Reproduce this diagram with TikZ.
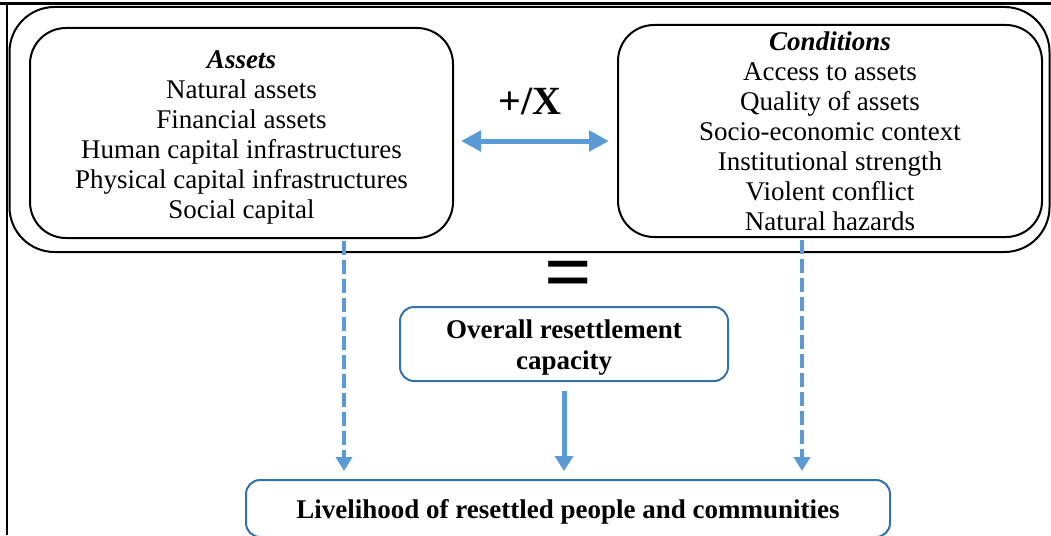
\documentclass[tikz,border=0pt]{standalone}
\usepackage{fontspec}
\setmainfont{Liberation Serif}
\usetikzlibrary{arrows.meta,calc}
\definecolor{arrblue}{RGB}{91,155,213}
\definecolor{boxblue}{RGB}{52,113,170}
\begin{document}
\begin{tikzpicture}[x=1pt,y=-1pt,
  txt/.style={font=\fontsize{27}{30}\selectfont, align=center},
  boldtxt/.style={font=\bfseries\fontsize{27}{31}\selectfont, align=center},
  blackbox/.style={draw=black, line width=2pt, rounded corners=36pt, inner sep=0pt},
  bluebox/.style={draw=boxblue, line width=2pt, rounded corners=14pt, inner sep=0pt},
  dasharrow/.style={draw=arrblue, line width=4.5pt, dash pattern=on 14pt off 5pt,
    -{Triangle[length=14pt,width=16pt]}},
  solidarrow/.style={draw=arrblue, line width=5pt, -{Triangle[length=15pt,width=18pt]}},
  dblarrow/.style={draw=arrblue, line width=5pt,
    {Triangle[length=20pt,width=20pt]}-{Triangle[length=20pt,width=20pt]}},
  frame/.style={draw=black}]
\useasboundingbox (0,0) rectangle (1051,535);
\clip (0,0) rectangle (1051,535);
% frame of the picture
\draw[frame, line width=3pt] (0,3.5) -- (1051,3.5);
\draw[frame, line width=2pt] (6.5,3) -- (6.5,535);
% outer box
\node[blackbox, rounded corners=45pt, minimum width=1040pt, minimum height=245pt] (outer) at (529.5,129.5) {};
% inner boxes
\node[blackbox, minimum width=423pt, minimum height=210pt] (assets) at (241.5,133) {};
\node[txt] (assetstxt) at (241.5,137)
  {\textbf{\textit{Assets}}\\Natural assets\\Financial assets\\Human capital infrastructures\\Physical capital infrastructures\\Social capital};
\node[blackbox, txt, minimum width=424pt, minimum height=212pt] (conditions) at (830,131)
  {\textbf{\textit{Conditions}}\\Access to assets\\Quality of assets\\Socio-economic context\\Institutional strength\\Violent conflict\\Natural hazards};
% operators
\node[font=\bfseries\fontsize{40}{44}\selectfont] (op) at (530,102) {+/X};
\node[font=\bfseries\fontsize{84}{90}\selectfont, inner sep=0pt] (eq) at (568,281) {=};
% blue boxes
\node[bluebox, minimum width=328pt, minimum height=74pt] (overall) at (564,344) {};
\node[boldtxt] (overalltxt) at (564,348) {Overall resettlement\\capacity};
\node[bluebox, minimum width=644pt, minimum height=57pt] (live) at (568,508.5) {};
\node[boldtxt] (livetxt) at (568,512) {Livelihood of resettled people and communities};
% connectors
\coordinate (ay) at (0,141);
\coordinate (L) at (344,0);
\coordinate (R) at (802,0);
\draw[dblarrow] ([xshift=7pt]assets.east |- ay) -- ([xshift=-8pt]conditions.west |- ay);
\draw[dasharrow] ([yshift=-2pt]assets.south -| L) -- ([yshift=8pt]live.north -| L);
\draw[dasharrow] ([yshift=-2pt]conditions.south -| R) -- ([yshift=8pt]live.north -| R);
\draw[solidarrow] ([yshift=-9pt]overall.south) -- ([yshift=8pt]live.north -| overall.south);
\end{tikzpicture}
\end{document}
